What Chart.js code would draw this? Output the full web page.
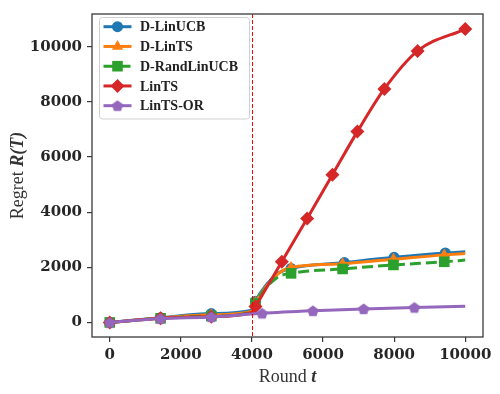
<!DOCTYPE html>
<html>
<head>
<meta charset="utf-8">
<script src="https://cdn.jsdelivr.net/npm/chart.js@4.4.1/dist/chart.umd.min.js"></script>
<style>
  html, body { margin: 0; padding: 0; background: #fff; }
  #wrap { width: 500px; height: 394px; }
</style>
</head>
<body>
<div id="wrap"><canvas id="chart" width="500" height="394"></canvas></div>
<script>
// ===== DATA =====
const seriesNames = ["D-LinUCB", "D-LinTS", "D-RandLinUCB", "LinTS", "LinTS-OR"];
const changePoint = 4000;
const xTicks = [0, 2000, 4000, 6000, 8000, 10000];
const yTicks = [0, 2000, 4000, 6000, 8000, 10000];

// rounds, regret, and which points carry a marker (1) or only shape the line (0)
const linucbT = [0, 1429, 2857, 4000, 4100, 4700, 5100, 6600, 8000, 9440, 10000];
const linucbR = [0, 170, 320, 440, 770, 1750, 1960, 2170, 2360, 2520, 2560];
const linucbM = [1, 1, 1, 0, 1, 0, 1, 1, 1, 1, 0];

const lintsT = [0, 1429, 2857, 4000, 4100, 4700, 5100, 6550, 7980, 9410, 10000];
const lintsR = [0, 160, 280, 400, 720, 1720, 1990, 2130, 2290, 2450, 2500];
const lintsM = [1, 1, 1, 0, 1, 0, 1, 1, 1, 1, 0];

const randT = [0, 1429, 2857, 4000, 4100, 4700, 5100, 6550, 7980, 9410, 10000];
const randR = [0, 150, 230, 380, 700, 1620, 1780, 1940, 2085, 2200, 2260];
const randM = [1, 1, 1, 0, 1, 0, 1, 1, 1, 1, 0];

const lintsBaseT = [0, 1429, 2857, 4000, 4100, 4840, 5553, 6265, 6966, 7725, 8660, 10000];
const lintsBaseR = [0, 150, 210, 360, 580, 2200, 3770, 5360, 6920, 8466, 9846, 10640];
const lintsBaseM = [1, 1, 1, 0, 1, 1, 1, 1, 1, 1, 1, 1];

const oracleT = [0, 1429, 2857, 4286, 5714, 7143, 8571, 10000];
const oracleR = [0, 140, 200, 330, 420, 490, 540, 590];
const oracleM = [1, 1, 1, 1, 1, 1, 1, 0];

// ===== STYLE =====
const colors = ["#1f77b4", "#ff7f0e", "#2ca02c", "#d62728", "#9467bd"];

function pentagon(r, color) {
  const c = document.createElement("canvas");
  const s = Math.ceil(r * 2 + 2);
  c.width = s;
  c.height = s;
  const g = c.getContext("2d");
  g.fillStyle = color;
  g.beginPath();
  for (let k = 0; k < 5; k++) {
    const a = -Math.PI / 2 + k * 2 * Math.PI / 5;
    g.lineTo(s / 2 + r * Math.cos(a), s / 2 + 0.5 + r * Math.sin(a));
  }
  g.closePath();
  g.fill();
  return c;
}

const markers = [
  { style: "circle", r: 5.5 },
  { style: "triangle", r: 6.5 },
  { style: "rect", r: 7.5 },
  { style: "rectRot", r: 7 },
  { style: pentagon(6, colors[4]), r: 6 }
];

function makeSet(i, ts, rs, ms, dash) {
  return {
    label: seriesNames[i],
    data: ts.map((t, k) => ({ x: t, y: rs[k] })),
    borderColor: colors[i],
    backgroundColor: colors[i],
    borderWidth: 3,
    borderDash: dash || [],
    pointStyle: markers[i].style,
    pointRadius: ms.map(m => (m ? markers[i].r : 0)),
    pointBackgroundColor: colors[i],
    pointBorderWidth: 0,
    cubicInterpolationMode: "monotone",
    order: 5 - i
  };
}

const datasets = [
  makeSet(0, linucbT, linucbR, linucbM),
  makeSet(1, lintsT, lintsR, lintsM),
  makeSet(2, randT, randR, randM, [11, 5]),
  makeSet(3, lintsBaseT, lintsBaseR, lintsBaseM),
  makeSet(4, oracleT, oracleR, oracleM)
];

// ===== PLUGIN: frame, change point, legend, axis titles =====
const decor = {
  id: "decor",
  afterDatasetsDraw(chart) {
    const ctx = chart.ctx;
    const a = chart.chartArea;
    const xs = chart.scales.x;

    // change point
    const cx = Math.round(xs.getPixelForValue(changePoint)) + 0.5;
    ctx.save();
    ctx.strokeStyle = "#ff0000";
    ctx.lineWidth = 1;
    ctx.setLineDash([4, 2]);
    ctx.beginPath();
    ctx.moveTo(cx, a.top);
    ctx.lineTo(cx, a.bottom);
    ctx.stroke();
    ctx.restore();

    // frame
    ctx.save();
    ctx.strokeStyle = "#3a3a3a";
    ctx.lineWidth = 1.3;
    ctx.strokeRect(a.left, a.top, a.right - a.left, a.bottom - a.top);
    ctx.restore();

    // legend
    const bx = 99.5, by = 17.5, bw = 150, bh = 101.5;
    ctx.save();
    ctx.fillStyle = "rgba(255,255,255,0.85)";
    ctx.strokeStyle = "#d0d0d0";
    ctx.lineWidth = 1;
    ctx.beginPath();
    ctx.roundRect(bx, by, bw, bh, 3);
    ctx.fill();
    ctx.stroke();
    chart.data.datasets.forEach((ds, i) => {
      const y = 26.7 + i * 19.75;
      ctx.strokeStyle = ds.borderColor;
      ctx.lineWidth = 3;
      ctx.setLineDash(ds.borderDash);
      ctx.beginPath();
      ctx.moveTo(103.5, y);
      ctx.lineTo(131.5, y);
      ctx.stroke();
      ctx.setLineDash([]);
      ctx.fillStyle = ds.borderColor;
      Chart.helpers.drawPoint(ctx, {
        pointStyle: ds.pointStyle,
        radius: markers[i].r,
        borderWidth: 0,
        rotation: 0
      }, 117.5, y);
      ctx.fillStyle = "#222";
      ctx.font = "bold 14px 'Liberation Serif'";
      ctx.textBaseline = "middle";
      ctx.textAlign = "left";
      ctx.fillText(ds.label, 140, y + 1);
    });
    ctx.restore();

    // axis titles (mixed roman / bold italic)
    ctx.save();
    ctx.fillStyle = "#333";
    ctx.textBaseline = "alphabetic";
    const f1 = "18px 'Liberation Serif'";
    const f2 = "bold italic 18px 'Liberation Serif'";
    ctx.font = f1;
    const w1 = ctx.measureText("Round ").width;
    ctx.font = f2;
    const w2 = ctx.measureText("t").width;
    let x0 = (a.left + a.right) / 2 - (w1 + w2) / 2;
    ctx.font = f1;
    ctx.fillText("Round ", x0, 382);
    ctx.font = f2;
    ctx.fillText("t", x0 + w1, 382);

    ctx.translate(23, (a.top + a.bottom) / 2);
    ctx.rotate(-Math.PI / 2);
    ctx.font = f1;
    const v1 = ctx.measureText("Regret ").width;
    ctx.font = f2;
    const v2 = ctx.measureText("R(T)").width;
    x0 = -(v1 + v2) / 2;
    ctx.font = f1;
    ctx.fillText("Regret ", x0, 0);
    ctx.font = f2;
    ctx.fillText("R(T)", x0 + v1, 0);
    ctx.restore();
  }
};

// ===== CHART =====
const tickFont = { family: "'DejaVu Serif'", size: 15, weight: "bold" };

new Chart(document.getElementById("chart"), {
  type: "line",
  data: { datasets: datasets },
  options: {
    responsive: false,
    animation: false,
    layout: { padding: { left: 0, right: 17, top: 11, bottom: 0 } },
    plugins: { legend: { display: false }, tooltip: { enabled: false } },
    scales: {
      x: {
        type: "linear",
        min: -500,
        max: 10500,
        afterBuildTicks: s => { s.ticks = xTicks.map(v => ({ value: v })); },
        afterFit: s => { s.height = 57; },
        grid: { drawOnChartArea: false, tickLength: 5, color: "#3a3a3a", lineWidth: 1.2 },
        border: { display: false },
        ticks: { font: tickFont, color: "#262626", padding: 4, maxRotation: 0, callback: v => String(v) }
      },
      y: {
        type: "linear",
        min: -528,
        max: 11185,
        afterBuildTicks: s => { s.ticks = yTicks.map(v => ({ value: v })); },
        afterFit: s => { s.width = 92; },
        grid: { drawOnChartArea: false, tickLength: 5, color: "#3a3a3a", lineWidth: 1.2 },
        border: { display: false },
        ticks: { font: tickFont, color: "#262626", padding: 5, callback: v => String(v) }
      }
    }
  },
  plugins: [decor]
});
</script>
</body>
</html>
